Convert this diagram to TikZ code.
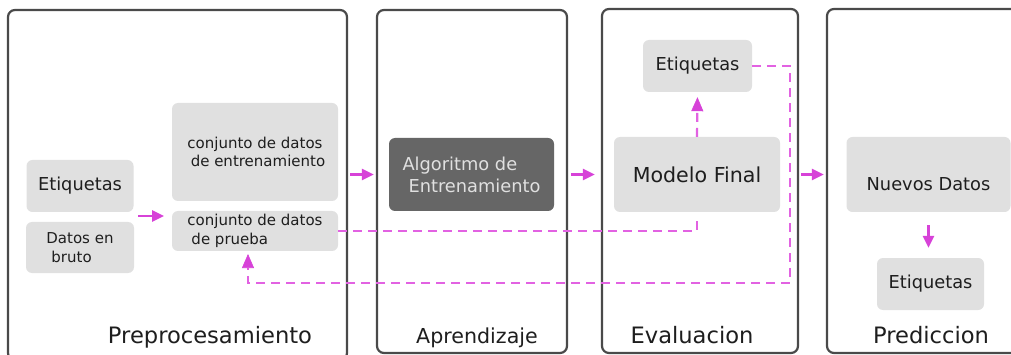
\documentclass[tikz,border=0pt]{standalone}
\usepackage{fontspec}
\setmainfont{DejaVu Sans}
\usetikzlibrary{arrows.meta,calc}
\definecolor{boxgray}{HTML}{E0E0E0}
\definecolor{darkbox}{HTML}{666666}
\definecolor{mag}{HTML}{D742D8}
\definecolor{magd}{HTML}{E262E2}
\definecolor{frame}{HTML}{4A4A4A}
\definecolor{txt}{HTML}{1E1E1E}
\begin{document}
\begin{tikzpicture}[x=1pt,y=-1pt,
  panel/.style={draw=frame, line width=2.2pt, rounded corners=7pt, rectangle, inner sep=0pt},
  gbox/.style={fill=boxgray, rounded corners=6pt, inner sep=0pt, text=txt},
  dbox/.style={fill=darkbox, rounded corners=6pt, inner sep=0pt, text=boxgray},
  ttl/.style={anchor=base, text=txt, font=\fontsize{22.6}{26}\selectfont},
  fbig/.style={font=\fontsize{17.8}{22}\selectfont},
  fsmall/.style={font=\fontsize{15}{18.5}\selectfont},
  arr/.style={draw=mag, line width=2.6pt, -{Triangle[length=12pt,width=11pt]}},
  darr/.style={draw=magd, line width=2.2pt, dash pattern=on 9pt off 6pt},
  dtip/.style={-{Triangle[length=14pt,width=12pt,fill=mag,color=mag,line width=0.6pt]}}
]
\useasboundingbox (0,0) rectangle (1011,355);
\clip (0,0) rectangle (1011,355);
\fill[white] (0,0) rectangle (1011,355);

% panels
\node[panel, minimum width=339pt, minimum height=350pt] (p1) at (177.5,185) {};
\node[panel, minimum width=190pt, minimum height=343pt] (p2) at (472,181.5) {};
\node[panel, minimum width=196pt, minimum height=344pt] (p3) at (700,181) {};
\node[panel, minimum width=203pt, minimum height=344pt] (p4) at (928.5,181) {};

% titles
\node[ttl] (t1) at (210,343) {Preprocesamiento};
\node[ttl, font=\fontsize{20.6}{24}\selectfont] (t2) at (477,343) {Aprendizaje};
\node[ttl] (t3) at (692,343) {Evaluacion};
\node[ttl] (t4) at (931,343) {Prediccion};

% preprocessing boxes
\node[gbox, fbig, minimum width=107pt, minimum height=52pt] (etq1) at (80,186) {Etiquetas};
\node[gbox, fsmall, minimum width=108pt, minimum height=51pt, align=left] (raw) at (80,247.5) {Datos en\\\hspace*{5pt}bruto};
\node[gbox, fsmall, minimum width=166pt, minimum height=98pt, align=center] (ent) at (255,152) {conjunto de datos\\\hspace*{6pt}de entrenamiento};
\node[gbox, fsmall, minimum width=166pt, minimum height=40pt, align=left] (prb) at (255,231) {conjunto de datos\\\hspace*{4pt}de prueba};

% learning
\node[dbox, fbig, minimum width=165pt, minimum height=73pt, align=left] (alg) at (471.5,174.5) {Algoritmo de\\\hspace*{6pt}Entrenamiento};

% evaluation
\node[gbox, font=\fontsize{20.6}{24}\selectfont, minimum width=166pt, minimum height=75pt] (mf) at (697,174.5) {Modelo Final};
\node[gbox, fbig, minimum width=109pt, minimum height=52pt] (eq2) at (697.5,66) {Etiquetas};

% prediction
\node[gbox, minimum width=164pt, minimum height=75pt, label={[fbig, text=txt, yshift=-10pt]center:Nuevos Datos}] (nd) at (928.5,174.5) {};
\node[gbox, fbig, minimum width=107pt, minimum height=52pt] (eq3) at (930.5,284) {Etiquetas};

% solid arrows
\coordinate (s1) at (138,216);
\coordinate (e1) at (164,216);
\draw[arr] (s1) -- (e1);
\draw[arr, shorten <=2pt, shorten >=2pt] (p1.east |- alg) -- (p2.west |- alg);
\draw[arr, shorten <=3pt, shorten >=6pt] (p2.east |- alg) -- (p3.west |- alg);
\draw[arr, shorten <=2pt, shorten >=2pt] (p3.east |- alg) -- (p4.west |- alg);
\draw[arr, shorten <=13pt, shorten >=10pt] (nd.south) -- (nd.south |- eq3.north);

% dashed connectors
\draw[darr] (prb.east) -| ([yshift=-6pt]mf.south);
\draw[darr, dtip, shorten >=5pt] (mf.north) -- (eq2.south);
\coordinate (c1) at (790,66);
\coordinate (c2) at (790,283);
\coordinate (c3) at (248,254);
\draw[darr, dtip] (eq2.east) -- (c1) -- (c2) -| (c3);
\end{tikzpicture}
\end{document}
